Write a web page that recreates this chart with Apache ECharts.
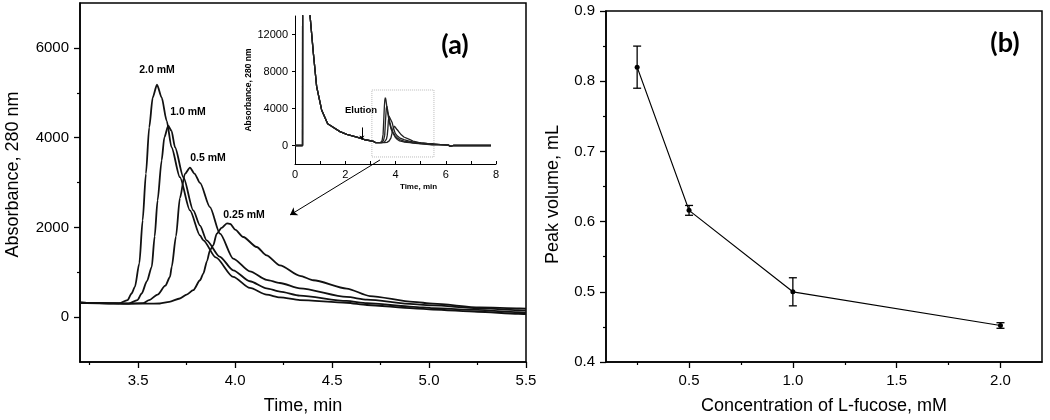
<!DOCTYPE html>
<html>
<head>
<meta charset="utf-8">
<script src="https://cdn.jsdelivr.net/npm/echarts@6/dist/echarts.min.js"></script>
<style>
  html, body { margin: 0; padding: 0; background: #fff; }
  #main { width: 1050px; height: 420px; }
</style>
</head>
<body>
<div id="main"></div>
<script>
// panel (a): absorbance traces, one pair of arrays per concentration
const t20 = [3.20, 3.30, 3.40, 3.445, 3.466, 3.483, 3.506, 3.523, 3.540, 3.557, 3.575, 3.597, 3.621, 3.647, 3.672, 3.715, 3.767, 3.819, 3.836, 3.90, 3.99, 4.076, 4.162, 4.231, 4.334, 4.575, 4.68, 4.92, 5.02, 5.25, 5.46, 5.50]
const v20 = [320, 310, 305, 378, 526, 673, 1200, 2155, 3200, 4230, 4895, 5180, 4895, 4378, 3785, 3118, 2378, 1822, 1711, 1330, 896, 650, 500, 440, 380, 320, 270, 195, 170, 120, 75, 70]
const t10 = [3.20, 3.30, 3.45, 3.496, 3.518, 3.545, 3.570, 3.585, 3.600, 3.621, 3.635, 3.655, 3.672, 3.690, 3.733, 3.784, 3.819, 3.853, 3.92, 3.99, 4.076, 4.162, 4.231, 4.334, 4.575, 4.68, 4.92, 5.02, 5.25, 5.46, 5.50]
const v10 = [320, 310, 300, 378, 526, 800, 1120, 1800, 2600, 3489, 4007, 4267, 4150, 3785, 3118, 2378, 2040, 1711, 1350, 1044, 800, 640, 570, 480, 360, 310, 230, 200, 160, 110, 105]
const t05 = [3.20, 3.30, 3.45, 3.525, 3.556, 3.60, 3.64, 3.664, 3.673, 3.695, 3.715, 3.741, 3.767, 3.79, 3.819, 3.870, 3.922, 3.990, 4.076, 4.162, 4.231, 4.334, 4.575, 4.68, 4.92, 5.02, 5.25, 5.46, 5.50]
const v05 = [320, 310, 300, 310, 378, 500, 700, 896, 1120, 1800, 2650, 3193, 3333, 3200, 2990, 2452, 1859, 1304, 1020, 830, 760, 640, 450, 390, 290, 260, 200, 155, 150]
const t025 = [3.20, 3.40, 3.55, 3.612, 3.66, 3.715, 3.75, 3.784, 3.819, 3.836, 3.855, 3.870, 3.887, 3.905, 3.930, 3.958, 3.975, 4.00, 4.042, 4.111, 4.162, 4.231, 4.334, 4.403, 4.575, 4.695, 4.918, 5.02, 5.262, 5.468, 5.50]
const v025 = [320, 305, 300, 304, 340, 415, 500, 600, 822, 971, 1250, 1489, 1600, 1859, 1990, 2089, 2075, 1950, 1785, 1563, 1378, 1155, 920, 822, 637, 470, 341, 300, 215, 193, 190]
const traceNames = ['2.0 mM', '1.0 mM', '0.5 mM', '0.25 mM']

// inset: whole run 0-8 min (injection spike + decay, then the peaks above, then the tail)
const insetHeadT = [0, 0.30, 0.31, 0.60, 0.73, 0.86, 1.06, 1.30, 1.79, 2.06, 2.46, 2.75, 3.12]
const insetHeadV = [0, 0, 40000, 14000, 10000, 6400, 3850, 2350, 1500, 1200, 900, 650, 450]
const insetTailT = [5.8, 6.1, 6.2, 6.25, 6.3, 6.6, 7.0, 7.8]
const insetTailV = [90, 40, -100, -250, 0, 10, 0, 0]

// ticks
const xMajA = [3.5, 4.0, 4.5, 5.0, 5.5]
const xMinA = [3.25, 3.75, 4.25, 4.75, 5.25]
const yMajA = [0, 2000, 4000, 6000]
const yMinA = [1000, 3000, 5000]
const yInset = [0, 4000, 8000, 12000]

// panel (b): peak volume vs concentration
const conc = [0.25, 0.5, 1.0, 2.0]
const vol = [0.82, 0.616, 0.50, 0.452]
const volErr = [0.03, 0.007, 0.02, 0.004]
const xMajB = [0.5, 1.0, 1.5, 2.0]
const xMinB = [0.25, 0.75, 1.25, 1.75]
const yMajB = [0.4, 0.5, 0.6, 0.7, 0.8, 0.9]
const yMinB = [0.45, 0.55, 0.65, 0.75, 0.85]

const FONT = "'Liberation Sans', Arial, sans-serif"
const zip = (a, b) => a.map((x, i) => [x, b[i]])
const traces = [zip(t20, v20), zip(t10, v10), zip(t05, v05), zip(t025, v025)]
const insetTraces = traces.map(d => zip(insetHeadT, insetHeadV).concat(d, zip(insetTailT, insetTailV)))

function majorAxis (grid, min, max, ticks, fmt, extra) {
  return Object.assign({
    type: 'value',
    gridIndex: grid,
    min: min,
    max: max,
    axisLine: { onZero: false, lineStyle: { color: '#000', width: 1.5 } },
    axisTick: { customValues: ticks, length: 6, lineStyle: { color: '#000', width: 1.3 } },
    axisLabel: { customValues: ticks, formatter: fmt, color: '#000', fontSize: 15, fontFamily: FONT, margin: 11 },
    splitLine: { show: false }
  }, extra)
}
function minorAxis (grid, min, max, ticks, pos) {
  return {
    type: 'value',
    gridIndex: grid,
    position: pos,
    min: min,
    max: max,
    axisLine: { show: false, onZero: false },
    axisTick: { customValues: ticks, length: 3, lineStyle: { color: '#000', width: 1.2 } },
    axisLabel: { show: false },
    splitLine: { show: false }
  }
}
const nameStyle = { color: '#000', fontSize: 18, fontFamily: FONT }

var chartDom = document.getElementById('main')
var myChart = echarts.init(chartDom)
var option = {
  animation: false,
  backgroundColor: '#fff',
  grid: [
    { left: 80, top: 3, width: 446, height: 359, show: true, borderColor: '#000', borderWidth: 1.5 },
    { left: 295, top: 16, width: 201, height: 148 },
    { left: 606, top: 11, width: 436, height: 352, show: true, borderColor: '#000', borderWidth: 1.5 }
  ],
  xAxis: [
    majorAxis(0, 3.2, 5.5, xMajA, v => v.toFixed(1), {
      position: 'bottom',
      name: 'Time, min', nameLocation: 'middle', nameGap: 35, nameTextStyle: nameStyle
    }),
    minorAxis(0, 3.2, 5.5, xMinA, 'bottom'),
    {
      type: 'value',
      gridIndex: 1,
      position: 'bottom',
      min: 0,
      max: 8,
      interval: 2,
      axisLine: { onZero: false, lineStyle: { color: '#000', width: 1 } },
      axisTick: { inside: true, length: 3, lineStyle: { color: '#000' } },
      minorTick: { show: true, splitNumber: 2, length: 3, lineStyle: { color: '#000' } },
      axisLabel: { color: '#000', fontSize: 11, fontFamily: FONT, margin: 5 },
      splitLine: { show: false },
      name: 'Time, min',
      nameLocation: 'middle',
      nameGap: 19,
      nameTextStyle: { color: '#000', fontSize: 8, fontWeight: 'bold', fontFamily: FONT, padding: [0, 0, 0, 46] }
    },
    majorAxis(2, 0.1, 2.2, xMajB, v => v.toFixed(1), {
      position: 'bottom',
      name: 'Concentration of L-fucose, mM', nameLocation: 'middle', nameGap: 35, nameTextStyle: nameStyle
    }),
    minorAxis(2, 0.1, 2.2, xMinB, 'bottom')
  ],
  yAxis: [
    majorAxis(0, -1000, 7000, yMajA, v => String(v), {
      position: 'left',
      name: 'Absorbance, 280 nm', nameLocation: 'middle', nameGap: 58,
      nameTextStyle: Object.assign({ padding: [0, 0, 0, 16] }, nameStyle)
    }),
    minorAxis(0, -1000, 7000, yMinA, 'left'),
    {
      type: 'value',
      gridIndex: 1,
      position: 'left',
      min: -2000,
      max: 14000,
      axisLine: { onZero: false, lineStyle: { color: '#000', width: 1 } },
      axisTick: { customValues: yInset, length: 3, lineStyle: { color: '#000' } },
      axisLabel: { customValues: yInset, formatter: v => String(v), color: '#000', fontSize: 11, fontFamily: FONT, margin: 7 },
      splitLine: { show: false },
      name: 'Absorbance, 280 nm',
      nameLocation: 'middle',
      nameGap: 42,
      nameTextStyle: { color: '#000', fontSize: 8.5, fontWeight: 'bold', fontFamily: FONT }
    },
    majorAxis(2, 0.4, 0.9, yMajB, v => v.toFixed(1), {
      position: 'left',
      name: 'Peak volume, mL', nameLocation: 'middle', nameGap: 44,
      nameTextStyle: Object.assign({ padding: [0, 16, 0, 0] }, nameStyle)
    }),
    minorAxis(2, 0.4, 0.9, yMinB, 'left')
  ],
  series: traces.map((d, i) => ({
    name: traceNames[i],
    type: 'line',
    xAxisIndex: 0,
    yAxisIndex: 0,
    data: d,
    showSymbol: false,
    smooth: 0.25,
    smoothMonotone: 'x',
    lineStyle: { color: '#111', width: 1.8 },
    markLine: i === 0 ? {
      silent: true,
      symbol: ['none', 'arrow'],
      symbolSize: 7,
      label: { show: false },
      lineStyle: { color: '#000', width: 1, type: 'solid' },
      data: [[{ coord: [4.747, 3502] }, { coord: [4.283, 2276] }]]
    } : undefined
  })).concat(insetTraces.map((d, i) => ({
    name: 'inset ' + traceNames[i],
    type: 'line',
    xAxisIndex: 2,
    yAxisIndex: 2,
    data: d,
    showSymbol: false,
    lineStyle: { color: '#222', width: 1.3 },
    markArea: i === 0 ? {
      silent: true,
      itemStyle: { color: 'rgba(0,0,0,0)', borderColor: '#bbb', borderWidth: 1, borderType: 'dotted' },
      data: [[{ coord: [3.06, 6000] }, { coord: [5.53, -1240] }]]
    } : undefined,
    markLine: i === 0 ? {
      silent: true,
      symbol: ['none', 'arrow'],
      symbolSize: 4,
      label: { show: false },
      lineStyle: { color: '#000', width: 1, type: 'solid' },
      data: [[{ coord: [2.66, 1950] }, { coord: [2.66, 650] }]]
    } : undefined
  }))).concat([
    {
      name: 'Peak volume',
      type: 'line',
      xAxisIndex: 3,
      yAxisIndex: 3,
      data: zip(conc, vol),
      symbol: 'circle',
      symbolSize: 5,
      itemStyle: { color: '#000' },
      lineStyle: { color: '#000', width: 1.2 },
      z: 3
    },
    {
      name: 'error',
      type: 'custom',
      xAxisIndex: 3,
      yAxisIndex: 3,
      data: conc.map((c, i) => [c, vol[i], volErr[i]]),
      renderItem: function (params, api) {
        const x = api.value(0)
        const y = api.value(1)
        const e = api.value(2)
        const hi = api.coord([x, y + e])
        const lo = api.coord([x, y - e])
        const w = 4
        const st = { stroke: '#000', lineWidth: 1.3 }
        return {
          type: 'group',
          children: [
            { type: 'line', shape: { x1: hi[0], y1: hi[1], x2: lo[0], y2: lo[1] }, style: st },
            { type: 'line', shape: { x1: hi[0] - w, y1: hi[1], x2: hi[0] + w, y2: hi[1] }, style: st },
            { type: 'line', shape: { x1: lo[0] - w, y1: lo[1], x2: lo[0] + w, y2: lo[1] }, style: st }
          ]
        }
      },
      z: 4
    }
  ]),
  graphic: [
    { type: 'text', x: 157, y: 70, style: { text: '2.0 mM', font: 'bold 10.5px ' + FONT, fill: '#000', textAlign: 'center', textVerticalAlign: 'middle' } },
    { type: 'text', x: 188, y: 112, style: { text: '1.0 mM', font: 'bold 10.5px ' + FONT, fill: '#000', textAlign: 'center', textVerticalAlign: 'middle' } },
    { type: 'text', x: 208, y: 158, style: { text: '0.5 mM', font: 'bold 10.5px ' + FONT, fill: '#000', textAlign: 'center', textVerticalAlign: 'middle' } },
    { type: 'text', x: 244, y: 215, style: { text: '0.25 mM', font: 'bold 10.5px ' + FONT, fill: '#000', textAlign: 'center', textVerticalAlign: 'middle' } },
    { type: 'text', x: 361, y: 110, style: { text: 'Elution', font: 'bold 9.5px ' + FONT, fill: '#000', textAlign: 'center', textVerticalAlign: 'middle' } },
    { type: 'text', x: 455, y: 45, style: { text: '(a)', font: 'bold 27px Lato, sans-serif', fill: '#000', textAlign: 'center', textVerticalAlign: 'middle' } },
    { type: 'text', x: 1005, y: 43, style: { text: '(b)', font: 'bold 27px Lato, sans-serif', fill: '#000', textAlign: 'center', textVerticalAlign: 'middle' } }
  ]
}
option && myChart.setOption(option)
</script>
</body>
</html>
